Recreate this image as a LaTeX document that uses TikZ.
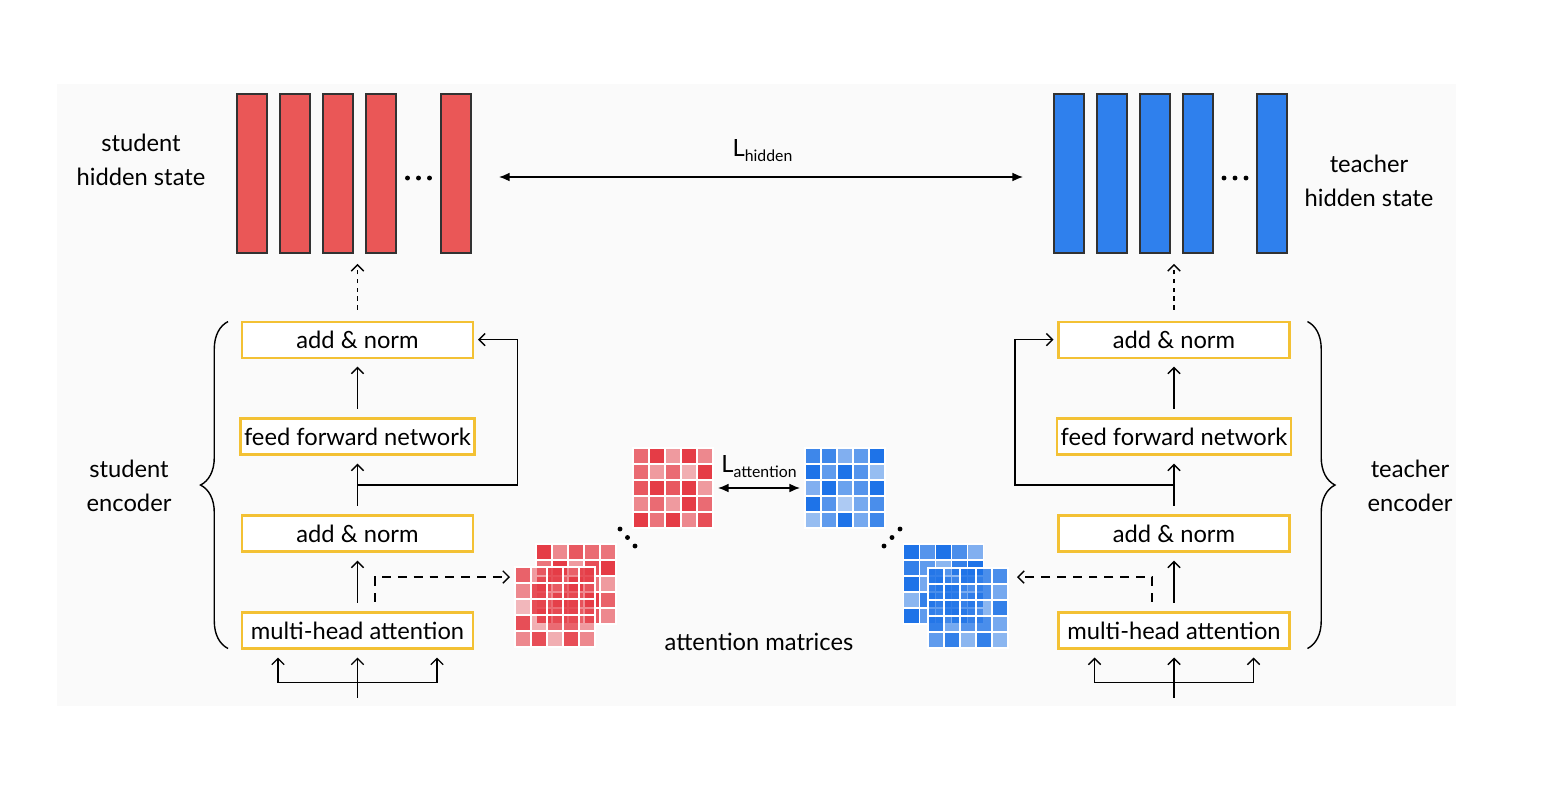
\documentclass[tikz,border=0pt]{standalone}
\usepackage{fontspec}
\setmainfont{Lato}
\usetikzlibrary{arrows.meta, positioning, decorations.pathreplacing, calc}
\definecolor{colStud}{RGB}{234,87,87}
\definecolor{colTeach}{RGB}{47,128,237}
\definecolor{colBar}{RGB}{50,50,50}
\definecolor{colLayer}{RGB}{243,193,52}
\definecolor{colCellR}{RGB}{229,60,70}
\definecolor{colCellB}{RGB}{30,115,232}
\definecolor{colBack}{RGB}{250,250,250}
\tikzset{
  layer/.style={
    rectangle, draw=colLayer, line width=1.2pt, fill=white,
    minimum width=4.62cm, minimum height=0.72cm, inner sep=2pt, outer sep=0pt,
    font=\fontsize{13.5}{19}\selectfont
  },
  studBar/.style={rectangle, draw=colBar, line width=1.1pt, fill=colStud, minimum width=0.6cm, minimum height=3.18cm, inner sep=0pt, outer sep=0pt},
  teachBar/.style={studBar, fill=colTeach},
  matbox/.style={rectangle, minimum size=1.6cm, inner sep=0pt, outer sep=0pt},
  arr/.style={
    -{Straight Barb[length=3.5pt, width=7pt]}, line width=0.8pt, shorten >=0.18cm
  },
  dasharr/.style={arr, dash pattern=on 5pt off 4pt, shorten >=0.1cm},
  lossarr/.style={{Latex[length=6pt, width=5pt]}-{Latex[length=6pt, width=5pt]}, line width=0.8pt},
  brace/.style={decorate, decoration={brace, amplitude=0.55cm}, line width=0.8pt},
  txt/.style={font=\fontsize{13.5}{19}\selectfont, align=center}
}
% one 5x5 attention matrix: node, colour, 25 opacities
\newcommand{\attgrid}[3]{%
  \foreach \v [count=\k from 0] in {#3} {
    \pgfmathtruncatemacro\attR{\k/5}
    \pgfmathtruncatemacro\attC{\k-5*\attR}
    \filldraw[fill=#2, fill opacity=\v, draw=white, line width=0.6pt]
      ([shift={(16*\attC,16*\attR)}]#1.north west) rectangle ++(16,16);
  }}
\newcommand{\lossname}[1]{L\raisebox{-0.45ex}{\fontsize{9}{9}\selectfont #1}}

\begin{document}
\begin{tikzpicture}[x=0.02cm, y=-0.02cm]

  \useasboundingbox (0,0) rectangle (1543,792);
  \fill[colBack] (57,84) rectangle (1456,706);

  % hidden states
  \node[studBar] (sBar1) at (252,173.5) {};
  \node[studBar, right=0.26cm of sBar1] (sBar2) {};
  \node[studBar, right=0.26cm of sBar2] (sBar3) {};
  \node[studBar, right=0.26cm of sBar3] (sBar4) {};
  \node[studBar] (sBarN) at (456,173.5) {};
  \node[teachBar] (tBar1) at (1069,173.5) {};
  \node[teachBar, right=0.26cm of tBar1] (tBar2) {};
  \node[teachBar, right=0.26cm of tBar2] (tBar3) {};
  \node[teachBar, right=0.26cm of tBar3] (tBar4) {};
  \node[teachBar] (tBarN) at (1272,173.5) {};
  \foreach \d in {-11,0,11} {
    \fill (418.5+\d,178) circle (1.4pt);
    \fill (1235+\d,178) circle (1.4pt);
  }

  \node[txt] (sHidLbl) at (141,160) {student\\hidden state};
  \node[txt] (tHidLbl) at (1369,181) {teacher\\hidden state};

  % hidden loss
  \draw[lossarr, shorten <=0.56cm, shorten >=0.62cm] ([yshift=-0.07cm]sBarN.east) -- node[txt, above=5pt] (hLoss) {\lossname{hidden}} ([yshift=-0.07cm]tBar1.west);

  % student encoder
  \node[layer] (sMHA) at (357.5,630.5) {multi-head attention};
  \node[layer, above=1.22cm of sMHA] (sAN1) {add \& norm};
  \node[layer, above=1.22cm of sAN1] (sFFN) {feed forward network};
  \node[layer, above=1.22cm of sFFN] (sAN2) {add \& norm};

  % teacher encoder
  \node[layer] (tMHA) at (1174,630.5) {multi-head attention};
  \node[layer, above=1.22cm of tMHA] (tAN1) {add \& norm};
  \node[layer, above=1.22cm of tAN1] (tFFN) {feed forward network};
  \node[layer, above=1.22cm of tFFN] (tAN2) {add \& norm};

  \foreach \p in {s,t} {
    % main stack
    \draw[arr, shorten <=0.2cm] (\p MHA) -- (\p AN1);
    \draw[arr, shorten <=0.2cm] (\p AN1) -- (\p FFN);
    \draw[arr, shorten <=0.2cm] (\p FFN) -- (\p AN2);
    % inputs
    \coordinate (\p In) at ($(\p MHA.south)+(0,49)$);
    \coordinate (\p Fork) at ($(\p MHA.south)+(0,34)$);
    \draw[arr] (\p In) -- (\p MHA.south);
    \draw[arr] (\p Fork) -| ($(\p MHA.south)+(-79.5,0)$);
    \draw[arr] (\p Fork) -| ($(\p MHA.south)+(79.5,0)$);
    % residual branch
    \coordinate (\p Res) at ($(\p AN1.north)!0.5!(\p FFN.south)$);
    % to hidden state
    \coordinate (\p Top) at (\p AN2.north |- \p Bar1.south);
    \draw[arr, dash pattern=on 2.5pt off 2.5pt, shorten <=0.24cm, shorten >=0.22cm] (\p AN2.north) -- (\p Top);
  }
  \draw[arr, shorten >=0.1cm] (sRes) -- ++(160,0) |- (sAN2.east);
  \draw[arr, shorten >=0.1cm] (tRes) -- ++(-159,0) |- (tAN2.west);

  % braces
  \draw[brace] ($(sMHA.south west)+(-14,0)$) -- ($(sAN2.north west)+(-14,0)$);
  \draw[brace] ($(tAN2.north east)+(18,0)$) -- ($(tMHA.south east)+(18,0)$);
  \node[txt] (sEncLbl) at (129,486) {student\\encoder};
  \node[txt] (tEncLbl) at (1410,486) {teacher\\encoder};

  % attention matrices
  \node[matbox] (sAtt) at (673,488) {};
  \node[matbox] (tAtt) at (845,488) {};
  \node[matbox] (sStackB) at (576,584) {};
  \node[matbox] (sStackF) at (555,607) {};
  \node[matbox] (tStackB) at (943.5,584) {};
  \node[matbox] (tStackF) at (968,608) {};
  \attgrid{sAtt}{colCellR}{.75,1,.5,1,.6, .75,.5,.75,.4,1, .85,1,.85,1,.5, .6,.75,.5,1,.75, 1,.7,1,.6,.9}
  \attgrid{tAtt}{colCellB}{.85,.85,.55,.7,1, 1,.7,1,.75,.45, .55,1,.65,.75,1, 1,.75,.35,.6,.8, .45,.7,1,.6,.85}
  \attgrid{sStackB}{colCellR}{1,.6,.85,.75,.7, .7,1,.5,.9,1, .85,.6,1,.7,.5, .5,.9,.7,1,.8, .9,.7,.6,.85,.6}
  \attgrid{sStackF}{colCellR}{.8,.5,.9,.6,.9, .6,.9,.6,.8,.6, .35,.9,.75,.9,.6, .9,.4,.75,.8,.5, .6,.9,.4,.9,.6}
  \attgrid{tStackB}{colCellB}{1,.75,1,.8,.55, .9,.7,.5,.9,1, 1,.6,.8,.7,.5, .5,.9,.7,.6,.8, 1,.7,.6,.85,.6}
  \attgrid{tStackF}{colCellB}{.9,.5,.9,.8,.8, .8,.9,.6,.8,.6, .7,.9,.75,.5,.9, .9,.6,.75,.8,.6, .7,.9,.5,.9,.5}
  \foreach \d in {0,1,2} {
    \fill (620+7.5*\d,529+8.5*\d) circle (1.4pt);
    \fill (884+8*\d,546-8.5*\d) circle (1.4pt);
  }
  \node[txt] (attLbl) at (759,642) {attention matrices};

  % attention loss
  \draw[lossarr, shorten <=0.1cm, shorten >=0.1cm] (sAtt) -- node[txt, above=2pt] (aLoss) {\lossname{attention}} (tAtt);

  % attention maps out of the encoders
  \coordinate (sAttIn) at (510,577);
  \coordinate (tAttIn) at (1017,577);
  \draw[dasharr, shorten >=0pt] ($(sMHA.north)+(17.5,-11)$) |- (sAttIn);
  \draw[dasharr, shorten >=0pt] ($(tMHA.north)+(-22,-11)$) |- (tAttIn);

\end{tikzpicture}
\end{document}
